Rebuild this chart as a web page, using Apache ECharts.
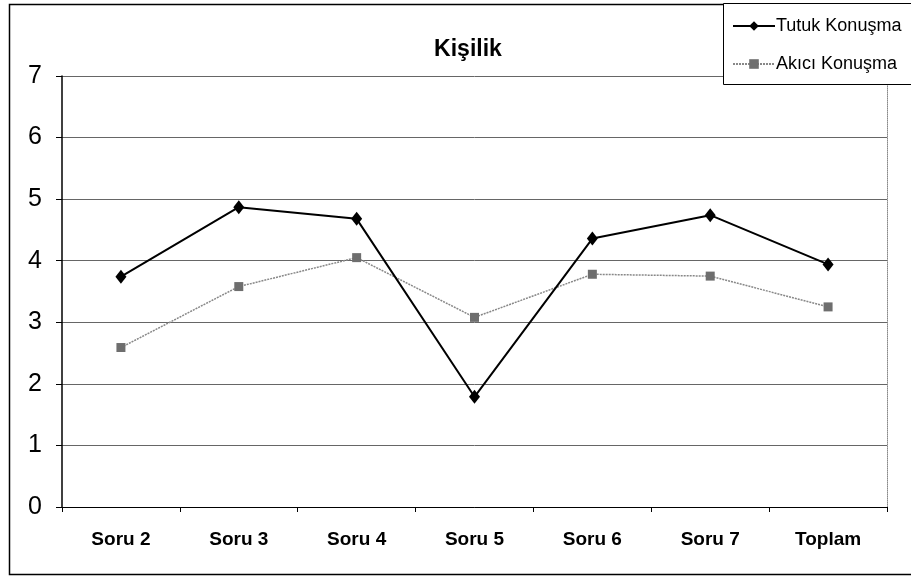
<!DOCTYPE html>
<html>
<head>
<meta charset="utf-8">
<script src="https://cdn.jsdelivr.net/npm/echarts@6/dist/echarts.min.js"></script>
<style>
  html, body { margin: 0; padding: 0; background: #fff; }
  #chart { width: 911px; height: 585px; }
</style>
</head>
<body>
<div id="chart"></div>
<script>
const categories = ['Soru 2', 'Soru 3', 'Soru 4', 'Soru 5', 'Soru 6', 'Soru 7', 'Toplam'];
const tutuk = [3.74, 4.87, 4.68, 1.79, 4.36, 4.74, 3.94];
const akici = [2.59, 3.58, 4.05, 3.08, 3.78, 3.75, 3.25];
const seriesNames = ['Tutuk Konuşma', 'Akıcı Konuşma'];

const font = "'Liberation Sans Narrow', 'Arial Narrow', 'Liberation Sans', Arial, sans-serif";

const myChart = echarts.init(document.getElementById('chart'));

const option = {
  animation: false,
  backgroundColor: '#fff',
  title: {
    text: 'Kişilik',
    left: 463,
    textAlign: 'center',
    top: 33,
    textStyle: { fontFamily: font, fontSize: 23, fontWeight: 'bold', color: '#000' }
  },
  legend: {
    orient: 'vertical',
    left: 727,
    top: 12,
    itemWidth: 42,
    itemHeight: 12,
    itemGap: 20,
    data: seriesNames,
    textStyle: { fontFamily: font, fontSize: 18, color: '#000', padding: [0, 0, 0, -4] }
  },
  graphic: [
    {
      type: 'rect',
      shape: { x: 9.5, y: 4.5, width: 950, height: 570 },
      style: { fill: null, stroke: '#000', lineWidth: 1.5 },
      z: 1
    },
    {
      type: 'rect',
      shape: { x: 723.5, y: 3.5, width: 250, height: 81 },
      style: { fill: '#fff', stroke: '#000', lineWidth: 1 },
      z: 2
    }
  ],
  grid: { left: 62, top: 76, right: 24, bottom: 78 },
  xAxis: {
    type: 'category',
    data: categories,
    boundaryGap: true,
    axisLine: { lineStyle: { color: '#000', width: 1 } },
    axisTick: { show: true, alignWithLabel: false, length: 5, lineStyle: { color: '#000' } },
    axisLabel: { fontFamily: font, fontSize: 19, fontWeight: 'bold', color: '#000', margin: 23 }
  },
  yAxis: [
    {
      type: 'value',
      min: 0,
      max: 7,
      interval: 1,
      axisLine: { show: true, lineStyle: { color: '#000', width: 1.5 } },
      axisTick: { show: true, length: 6, lineStyle: { color: '#000' } },
      axisLabel: { fontFamily: font, fontSize: 25, color: '#000', margin: 20 },
      splitLine: { lineStyle: { color: '#666', width: 1 } }
    },
    {
      type: 'value',
      position: 'right',
      min: 0,
      max: 7,
      interval: 1,
      axisLine: { show: true, lineStyle: { color: '#888', width: 1, type: 'dotted' } },
      axisTick: { show: false },
      axisLabel: { show: false },
      splitLine: { show: false }
    }
  ],
  series: [
    {
      name: seriesNames[0],
      type: 'line',
      data: tutuk,
      symbol: 'diamond',
      symbolSize: [11, 14],
      lineStyle: { color: '#000', width: 2 },
      itemStyle: { color: '#000' },
      z: 4
    },
    {
      name: seriesNames[1],
      type: 'line',
      data: akici,
      symbol: 'rect',
      symbolSize: 9,
      lineStyle: { color: '#888', width: 1.5, type: [2, 1] },
      itemStyle: { color: '#6e6e6e' },
      z: 3
    }
  ]
};

myChart.setOption(option);
</script>
</body>
</html>
